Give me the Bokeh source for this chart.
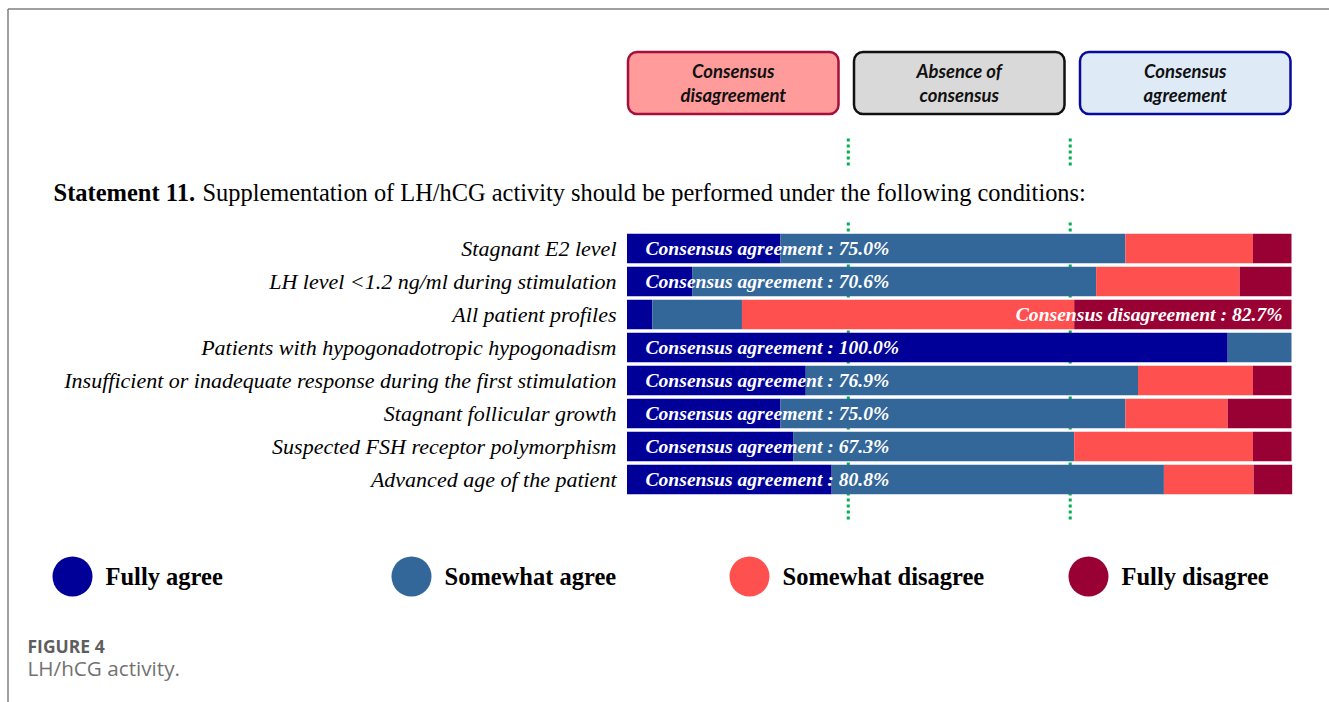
from bokeh.plotting import figure
from bokeh.models import ColumnDataSource, Range1d
from bokeh.core.properties import value
from bokeh.embed import file_html
from bokeh.resources import INLINE

# ---------------- data ----------------
categories = [
    "Stagnant E2 level",
    "LH level <1.2 ng/ml during stimulation",
    "All patient profiles",
    "Patients with hypogonadotropic hypogonadism",
    "Insufficient or inadequate response during the first stimulation",
    "Stagnant follicular growth",
    "Suspected FSH receptor polymorphism",
    "Advanced age of the patient",
]
fully_agree = [23.1, 9.8, 3.8, 90.4, 26.9, 23.1, 25.0, 30.8]
somewhat_agree = [51.9, 60.8, 13.5, 9.6, 50.0, 51.9, 42.3, 50.0]
somewhat_disagree = [19.2, 21.6, 50.0, 0.0, 17.3, 15.4, 26.9, 13.5]
fully_disagree = [5.8, 7.8, 32.7, 0.0, 5.8, 9.6, 5.8, 5.8]

series_names = ["Fully agree", "Somewhat agree", "Somewhat disagree", "Fully disagree"]
series_colors = ["#000099", "#336699", "#FF5050", "#990033"]
thresholds = [33.3, 66.7]
consensus_boxes = [("Consensus", "disagreement"), ("Absence of", "consensus"), ("Consensus", "agreement")]
box_fills = ["#FF9B9B", "#D9D9D9", "#DEEBF7"]
box_lines = ["#A50F3C", "#111111", "#0A0A9A"]
statement_bold = "Statement 11."
statement_text = "Supplementation of LH/hCG activity should be performed under the following conditions:"
caption_label = "FIGURE 4"
caption_text = "LH/hCG activity."

# ---------------- layout helpers (page pixel -> data) ----------------
W, H = 1329, 702
PAGE = 0
X0_PX = 626.5
PX_PER_PCT = 6.645
ROW0_PY = 248.0
ROW_PITCH = 33.0


def X(px):
    return (px - X0_PX) / PX_PER_PCT


def Y(py):
    return (py - ROW0_PY) / ROW_PITCH


p = figure(width=W, height=H,
           x_range=Range1d(X(PAGE), X(PAGE + W)),
           y_range=Range1d(Y(PAGE + H), Y(PAGE)),
           x_axis_location=None, y_axis_location=None,
           output_backend="svg", toolbar_location=None, min_border=0)
p.grid.visible = False
p.outline_line_color = None
p.background_fill_color = "white"
p.border_fill_color = "white"

SERIF = value("Liberation Serif")

# page border lines (top and left)
p.segment(x0=[X(7.5), X(7.5)], y0=[Y(8.5), Y(8.5)], x1=[X(1329), X(7.5)], y1=[Y(8.5), Y(702)],
          line_color="#7F7F7F", line_width=1.5)

# consensus boxes
box_left = [627.5, 853.5, 1079.5]
box_w = 210.5
p.quad(left=[X(b) for b in box_left], right=[X(b + box_w) for b in box_left],
       top=[Y(51.5)] * 3, bottom=[Y(113.5)] * 3,
       fill_color=box_fills, line_color=box_lines, line_width=2.5, border_radius=9)
for b, (l1, l2) in zip(box_left, consensus_boxes):
    cx = X(b + box_w / 2)
    p.text(x=[cx, cx], y=[Y(70.5), Y(94.5)], text=[l1, l2], text_font=value("Lato"),
           text_font_style="bold italic", text_font_size="18.5px", text_color="#111111",
           text_align="center", text_baseline="middle")

# threshold dotted lines (behind bars)
for t in thresholds:
    p.segment(x0=[t, t], x1=[t, t], y0=[Y(138), Y(222)], y1=[Y(168), Y(522)],
              line_color="#00B050", line_width=3, line_dash="3 3")

# statement title
p.text(x=[X(53)], y=[Y(192)], text=[statement_bold], text_font=SERIF, text_font_style="bold",
       text_font_size="24.5px", text_color="black", text_align="left", text_baseline="middle")
p.text(x=[X(202)], y=[Y(192)], text=[statement_text], text_font=SERIF, text_font_style="normal",
       text_font_size="24.4px", text_color="black", text_align="left", text_baseline="middle")

# stacked bars
rows = list(range(len(categories)))
source = ColumnDataSource(dict(y=rows, fa=fully_agree, sa=somewhat_agree,
                               sd=somewhat_disagree, fd=fully_disagree))
p.hbar_stack(["fa", "sa", "sd", "fd"], y="y", height=29.5 / ROW_PITCH, color=series_colors,
             source=source, line_color=None)

# row labels
p.text(x=[X(616)] * len(rows), y=rows, text=categories, text_font=SERIF, text_font_style="italic",
       text_font_size="22px", text_color="black", text_align="right", text_baseline="middle")

# consensus labels in bars
lx, ly, lt, rx, ry, rt = [], [], [], [], [], []
for i in rows:
    agree = fully_agree[i] + somewhat_agree[i]
    disagree = somewhat_disagree[i] + fully_disagree[i]
    if agree >= thresholds[1]:
        lx.append(X(645)); ly.append(i); lt.append("Consensus agreement : %.1f%%" % agree)
    elif disagree >= thresholds[1]:
        rx.append(X(1282)); ry.append(i); rt.append("Consensus disagreement : %.1f%%" % disagree)
p.text(x=lx, y=ly, text=lt, text_font=SERIF, text_font_style="bold italic", text_font_size="19.6px",
       text_color="white", text_align="left", text_baseline="middle")
p.text(x=rx, y=ry, text=rt, text_font=SERIF, text_font_style="bold italic", text_font_size="19.6px",
       text_color="white", text_align="right", text_baseline="middle")

# legend
leg_cx = [72, 411, 749, 1088]
p.scatter(x=[X(c) for c in leg_cx], y=[Y(576)] * 4, size=40, marker="circle",
          fill_color=series_colors, line_color=None)
p.text(x=[X(c + 33) for c in leg_cx], y=[Y(576)] * 4, text=series_names, text_font=SERIF,
       text_font_style="bold", text_font_size="24.5px", text_color="black",
       text_align="left", text_baseline="middle")

# caption
p.text(x=[X(27)], y=[Y(645)], text=[caption_label], text_font=value("Open Sans"),
       text_font_style="bold", text_font_size="17.5px", text_color="#5E5E5E",
       text_align="left", text_baseline="middle")
p.text(x=[X(27)], y=[Y(667)], text=[caption_text], text_font=value("Open Sans"),
       text_font_style="normal", text_font_size="20.7px", text_color="#727272",
       text_align="left", text_baseline="middle")

open("out.html", "w").write(file_html(p, INLINE))
